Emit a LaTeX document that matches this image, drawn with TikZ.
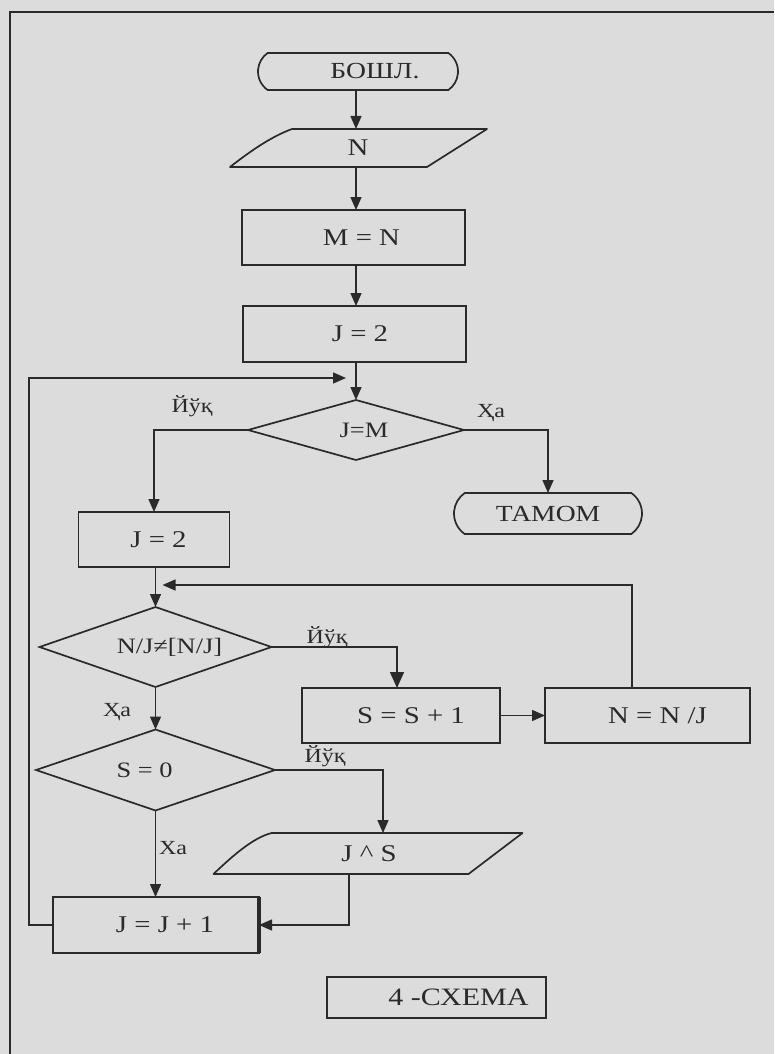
\documentclass[tikz,border=0pt]{standalone}
\usepackage{fontspec}
\setmainfont{Liberation Serif}[FakeStretch=1.2]
\usetikzlibrary{arrows.meta,shapes.geometric,shapes.misc,calc}
\definecolor{bg}{HTML}{DCDCDC}
\definecolor{ink}{HTML}{2A2A2A}
\begin{document}
\begin{tikzpicture}[x=1pt,y=-1pt,
  every node/.style={text=ink, inner sep=0pt, outer sep=0pt},
  proc/.style={draw=ink, line width=1.7pt, rectangle, font=\fontsize{24}{27}\selectfont},
  dec/.style={draw=ink, line width=1.7pt, diamond, font=\fontsize{22}{25}\selectfont},
  term/.style={draw=ink, line width=1.7pt, rounded rectangle, rounded rectangle arc length=110, font=\fontsize{23}{26}\selectfont},
  iobox/.style={font=\fontsize{24}{27}\selectfont},
  ioshape/.style={draw=ink, line width=1.7pt, line join=round},
  lab/.style={font=\fontsize{20}{23}\selectfont},
  conn/.style={draw=ink, line width=1.5pt},
  arr/.style={conn, -{Triangle[length=13pt,width=11pt]}},
  bigarr/.style={conn, -{Triangle[length=16pt,width=14pt]}},
]
\useasboundingbox (0,0) rectangle (774,1054);
\fill[bg] (0,0) rectangle (774,1054);
\draw[ink, line width=2pt] (10,1054) -- (10,12) -- (774,12);

\coordinate (trunk) at (356,0);
\coordinate (lft) at (29,0);
\coordinate (m1) at (356,378);
\coordinate (m2) at (155.5,585);

% start
\node[term, minimum width=200pt, minimum height=37pt] (start) at (358,71.5) {\hspace*{34pt}БОШЛ.};
% input N
\node[iobox, minimum width=196pt, minimum height=38pt] (nin) at (358,148) {N};
\draw[ioshape] ($(nin.south west)+(-30,0)$) .. controls ($(nin.south west)+(-12,-14)$) and ($(nin.north west)+(10,8)$) .. ($(nin.north west)+(32,0)$)
  -- ($(nin.north east)+(31,0)$) -- ($(nin.south east)+(-29,0)$) -- cycle;
% boxes
\node[proc, minimum width=223pt, minimum height=55pt] (mn) at (353.5,237.5) {\hspace*{16pt}M = N};
\node[proc, minimum width=223pt, minimum height=56pt] (j2) at (354.5,334) {\hspace*{11pt}J = 2};
\node[dec, aspect=3.6, minimum width=216pt, minimum height=60pt] (jm) at (356,430) {\hspace*{16pt}J=M};
\node[term, minimum width=188pt, minimum height=41pt] (tam) at (548,513.5) {ТАМОМ};
\node[proc, minimum width=151pt, minimum height=55pt] (jb) at (154,539.5) {\hspace*{9pt}J = 2};
\node[dec, aspect=2.9, minimum width=232pt, minimum height=80pt] (nj) at (155.5,647) {\hspace*{28pt}N/J≠[N/J]};
\node[proc, minimum width=198pt, minimum height=55pt] (ss) at (401,715.5) {\hspace*{20pt}S = S + 1};
\node[proc, minimum width=205pt, minimum height=55pt] (nn) at (647.5,715.5) {\hspace*{20pt}N = N /J};
\node[dec, aspect=2.95, minimum width=239pt, minimum height=81pt] (s0) at (155.5,770) {S = 0\hspace*{22pt}};
\node[iobox, minimum width=253pt, minimum height=41pt] (js) at (369,853.5) {J \textasciicircum\ S};
\draw[ioshape] ($(js.south west)+(-29,0)$) .. controls ($(js.south west)+(-10,-18)$) and ($(js.north west)+(10,5)$) .. ($(js.north west)+(29,0)$)
  -- ($(js.north east)+(27,0)$) -- ($(js.south east)+(-27,0)$) -- cycle;
\node[proc, minimum width=206pt, minimum height=56pt] (jj) at (156,925) {\hspace*{18pt}J = J + 1};
\draw[ink, line width=3.5pt] (jj.north east) -- (jj.south east);
\node[proc, minimum width=219pt, minimum height=41pt, font=\fontsize{25}{28}\selectfont] (cap) at (436.5,997.5) {\hspace*{44pt}4 -СХЕМА};

% labels
\node[lab] (l1) at (192,406) {Йўқ};
\node[lab] (l2) at (491,413) {Ҳа};
\node[lab] (l3) at (327,637) {Йўқ};
\node[lab] (l4) at (117,712) {Ҳа};
\node[lab] (l5) at (325,756) {Йўқ};
\node[lab] (l6) at (173,848) {Ха};

% connectors
\draw[arr] (start.south -| trunk) -- (nin.north -| trunk);
\draw[arr] (nin.south -| trunk) -- (mn.north -| trunk);
\draw[arr] (mn.south -| trunk) -- (j2.north -| trunk);
\draw[arr] (j2.south -| trunk) -- (jm.north);
\draw[arr] (jm.east) -| (tam.north);
\draw[arr] (jm.west) -| (jb.north);
\draw[arr] (jb.south -| nj.north) -- (nj.north);
\draw[bigarr] (nj.east) -| ($(ss.north)+(-4,0)$);
\draw[arr] (ss.east) -- (nn.west);
\draw[arr, shorten >=7pt] ($(nn.north)+(-15.5,0)$) |- (m2);
\draw[arr] (nj.south) -- (s0.north);
\draw[arr] (s0.east) -| ($(js.north)+(14,0)$);
\draw[arr] (s0.south) -- (s0.south |- jj.north);
\draw[arr] ($(js.south)+(-20,0)$) |- (jj.east);
\draw[arr, shorten >=10pt] (jj.west) -- (jj.west -| lft) -- (m1 -| lft) -- (m1);
\end{tikzpicture}
\end{document}
